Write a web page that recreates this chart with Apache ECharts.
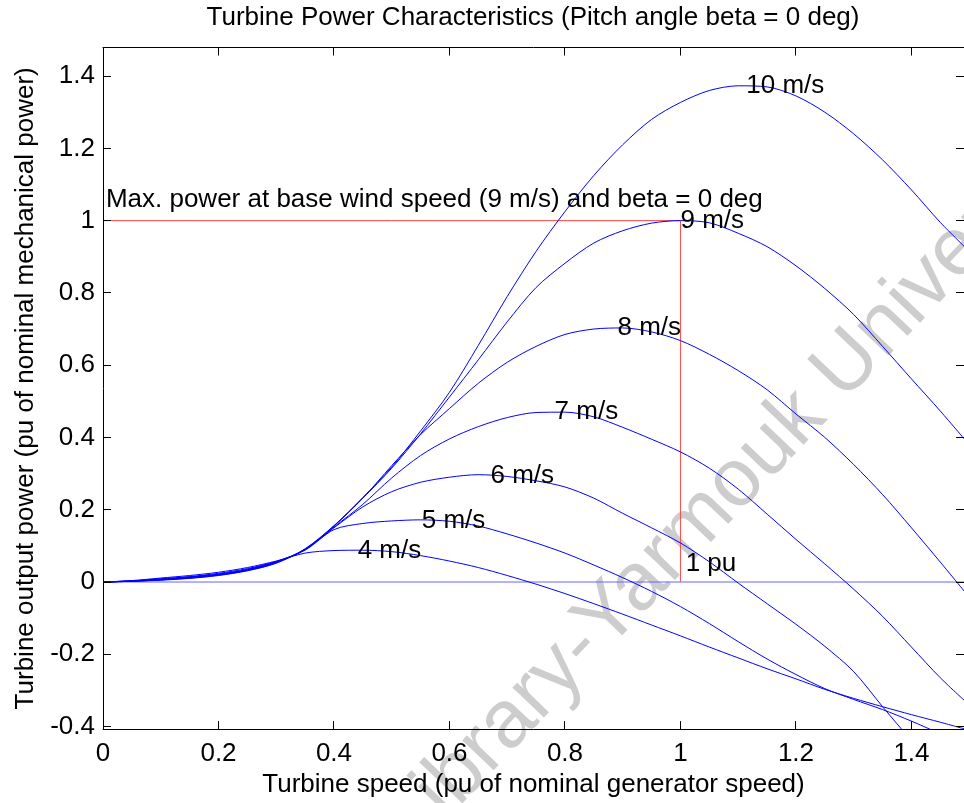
<!DOCTYPE html>
<html>
<head>
<meta charset="utf-8">
<title>Turbine Power Characteristics</title>
<script src="https://cdn.jsdelivr.net/npm/echarts@6/dist/echarts.min.js"></script>
<style>
  html, body { margin: 0; padding: 0; background: #fff; }
  #chart { width: 964px; height: 803px; }
</style>
</head>
<body>
<div id="chart"></div>
<script>
// turbine speed (pu), sampled every 0.05
var speed = [0, 0.05, 0.1, 0.15, 0.2, 0.25, 0.3, 0.35, 0.4, 0.45, 0.5, 0.55, 0.6, 0.65, 0.7, 0.75,
  0.8, 0.85, 0.9, 0.95, 1.0, 1.05, 1.1, 1.15, 1.2, 1.25, 1.3, 1.35, 1.4, 1.45, 1.5];

// output power (pu) for each wind speed
var p4 = [0, .004, .011, .018, .027, .040, .058, .080, .087, .088, .084, .073, .058, .040, .018, -.006,
  -.032, -.060, -.089, -.119, -.149, -.180, -.210, -.240, -.268, -.297, -.322, -.345, -.367, -.388, -.410];
var p5 = [0, .003, .009, .015, .024, .037, .057, .088, .145, .162, .169, .172, .168, .155, .133, .108,
  .080, .047, .012, -.026, -.068, -.115, -.165, -.213, -.256, -.295, -.325, -.353, -.385, -.420, -.455];
var p6 = [0, .003, .008, .014, .022, .035, .056, .090, .150, .208, .250, .276, .290, .297, .292, .280,
  .263, .232, .190, .150, .108, .056, -.003, -.060, -.117, -.178, -.248, -.345, -.440, -.540, -.640];
var p7 = [0, .003, .007, .013, .021, .034, .055, .090, .152, .215, .288, .350, .396, .430, .455, .469,
  .470, .457, .428, .395, .360, .315, .257, .188, .118, .050, -.020, -.095, -.180, -.265, -.340];
var p8 = [0, .002, .006, .012, .020, .033, .054, .090, .155, .232, .322, .408, .480, .550, .608, .652,
  .685, .700, .703, .692, .668, .630, .585, .532, .465, .400, .325, .242, .150, .055, -.042];
var p9 = [0, .002, .006, .011, .019, .032, .053, .091, .155, .232, .315, .410, .512, .615, .720, .815,
  .882, .938, .972, .993, 1.0, .994, .965, .928, .875, .812, .740, .652, .562, .473, .380];
var p10 = [0, .002, .005, .010, .018, .031, .052, .092, .156, .234, .318, .418, .525, .655, .790, .915,
  1.025, 1.125, 1.21, 1.28, 1.327, 1.36, 1.373, 1.37, 1.345, 1.30, 1.24, 1.168, 1.085, .995, .915];

var curves = [p4, p5, p6, p7, p8, p9, p10];

// curve labels: [x, y, text]
var curveLabels = [
  [0.441, 0.087, '4 m/s'],
  [0.552, 0.170, '5 m/s'],
  [0.671, 0.295, '6 m/s'],
  [0.782, 0.472, '7 m/s'],
  [0.891, 0.704, '8 m/s'],
  [1.0, 1.0, '9 m/s'],
  [1.114, 1.372, '10 m/s'],
  [1.009, 0.049, '1 pu'],
  [0.005, 1.057, 'Max. power at base wind speed (9 m/s) and beta = 0 deg']
];

// reference lines
var maxPowerLine = [[0, 1], [1, 1], [1, 0]];
var zeroLine = [[0, 0], [1.6, 0]];

var xTicks = [0, 0.2, 0.4, 0.6, 0.8, 1, 1.2, 1.4];
var yTicks = [-0.4, -0.2, 0, 0.2, 0.4, 0.6, 0.8, 1, 1.2, 1.4];

var X_MIN = 0, X_MAX = 1.491, Y_MIN = -0.407, Y_MAX = 1.479;
var TICK = 8;

var FONT = 'Liberation Sans, Arial, sans-serif';
var FS = 26;

var chart = echarts.init(document.getElementById('chart'));

function crisp(v) { return Math.round(v - 0.5) + 0.5; }
function tickLine(x1, y1, x2, y2) {
  return { type: 'line', shape: { x1: x1, y1: y1, x2: x2, y2: y2 }, style: { stroke: '#000', lineWidth: 1 } };
}

var series = [];
// zero line
series.push({
  type: 'line', data: zeroLine, symbol: 'none', silent: true,
  lineStyle: { color: '#6464ff', width: 1 }, z: 1
});
curves.forEach(function (c) {
  series.push({
    type: 'line',
    data: speed.map(function (s, i) { return [s, c[i]]; }),
    symbol: 'none', silent: true, smooth: 0.3,
    lineStyle: { color: '#0000ff', width: 1 }
  });
});
series.push({
  type: 'line', data: maxPowerLine, symbol: 'none', silent: true,
  lineStyle: { color: '#ff4a4a', width: 1 }, z: 1
});
series.push({
  type: 'scatter',
  data: curveLabels.map(function (l) { return { value: [l[0], l[1]], name: l[2] }; }),
  symbolSize: 0, silent: true, clip: false,
  itemStyle: { opacity: 1 },
  label: {
    show: true, position: 'right', distance: 0,
    formatter: '{b}', color: '#000', fontFamily: FONT, fontSize: FS
  },
  z: 5
});
// inward ticks on bottom and top edges
series.push({
  type: 'custom', silent: true, clip: false, z: 6,
  data: xTicks.map(function (v) { return [v, Y_MIN]; }),
  renderItem: function (params, api) {
    var b = api.coord([api.value(0), Y_MIN]);
    var t = api.coord([api.value(0), Y_MAX]);
    var x = crisp(b[0]);
    return { type: 'group', children: [
      tickLine(x, b[1], x, b[1] - TICK),
      tickLine(x, t[1], x, t[1] + TICK)
    ] };
  }
});
// inward ticks on left and right edges
series.push({
  type: 'custom', silent: true, clip: false, z: 6,
  data: yTicks.map(function (v) { return [X_MIN, v]; }),
  renderItem: function (params, api) {
    var l = api.coord([X_MIN, api.value(1)]);
    var r = api.coord([X_MAX, api.value(1)]);
    var y = crisp(l[1]);
    return { type: 'group', children: [
      tickLine(l[0], y, l[0] + TICK, y),
      tickLine(r[0], y, r[0] - TICK, y)
    ] };
  }
});

function axisLine() {
  return { show: true, onZero: false, lineStyle: { color: '#000', width: 1 } };
}

chart.setOption({
  animation: false,
  backgroundColor: '#fff',
  textStyle: { fontFamily: FONT },
  graphic: [
    {
      type: 'text', x: 533, y: 18,
      style: {
        text: 'Turbine Power Characteristics (Pitch angle beta = 0 deg)',
        font: FS + 'px ' + FONT, fill: '#000',
        textAlign: 'center', textVerticalAlign: 'middle'
      }
    },
    {
      type: 'text', x: 398, y: 838, rotation: 46.4 * Math.PI / 180, z: -10,
      style: {
        text: 'Library-Yarmouk University',
        font: '82px ' + FONT, fill: '#cdcdcd',
        textAlign: 'left', textVerticalAlign: 'middle'
      }
    }
  ],
  grid: { left: 103, right: -1, top: 47.5, bottom: 73, containLabel: false },
  xAxis: [
    {
      type: 'value', min: X_MIN, max: X_MAX, position: 'bottom',
      name: 'Turbine speed (pu of nominal generator speed)',
      nameLocation: 'middle', nameGap: 31,
      nameTextStyle: { fontSize: FS, color: '#000', fontFamily: FONT },
      axisLine: axisLine(),
      axisTick: { show: false },
      axisLabel: { customValues: xTicks, color: '#000', fontSize: FS, fontFamily: FONT, margin: 12 },
      splitLine: { show: false }
    },
    {
      type: 'value', min: X_MIN, max: X_MAX, position: 'top',
      axisLine: axisLine(),
      axisTick: { show: false },
      axisLabel: { show: false },
      splitLine: { show: false }
    }
  ],
  yAxis: [
    {
      type: 'value', min: Y_MIN, max: Y_MAX, position: 'left',
      name: 'Turbine output power (pu of nominal mechanical power)',
      nameLocation: 'middle', nameGap: 62,
      nameTextStyle: { fontSize: FS, color: '#000', fontFamily: FONT },
      axisLine: axisLine(),
      axisTick: { show: false },
      axisLabel: { customValues: yTicks, color: '#000', fontSize: FS, fontFamily: FONT, margin: 8 },
      splitLine: { show: false }
    },
    {
      type: 'value', min: Y_MIN, max: Y_MAX, position: 'right',
      axisLine: axisLine(),
      axisTick: { show: false },
      axisLabel: { show: false },
      splitLine: { show: false }
    }
  ],
  series: series
});
</script>
</body>
</html>
